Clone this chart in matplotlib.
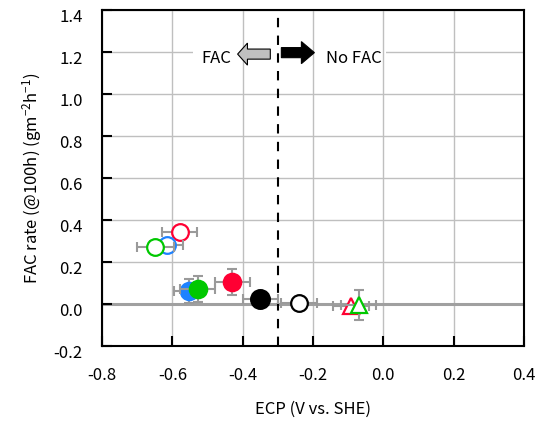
import matplotlib
matplotlib.use("Agg")
import matplotlib.pyplot as plt
from matplotlib.patches import FancyArrow, Rectangle
import matplotlib.transforms as mtransforms

plt.rcParams['font.family'] = ['Noto Sans CJK JP', 'DejaVu Sans']
plt.rcParams['mathtext.fontset'] = 'custom'
plt.rcParams['mathtext.rm'] = 'Noto Sans CJK JP'
plt.rcParams['mathtext.default'] = 'regular'

# ---- data ----
ecp = [-0.579, -0.616, -0.648, -0.552, -0.528, -0.429, -0.350, -0.240, -0.092, -0.070]
rate = [0.341, 0.281, 0.273, 0.063, 0.071, 0.105, 0.024, 0.003, -0.008, -0.005]
ecp_err = [0.05, 0.047, 0.052, 0.044, 0.05, 0.05, 0.05, 0.05, 0.05, 0.05]
rate_err = [0.0, 0.0, 0.0, 0.056, 0.06, 0.06, 0.0, 0.0, 0.0, 0.07]
colors = ['#FF0033', '#1E82FF', '#00C800', '#1E82FF', '#00C800', '#FF0033',
          '#000000', '#000000', '#FF0033', '#00C800']
markers = ['o', 'o', 'o', 'o', 'o', 'o', 'o', 'o', '^', '^']
filled = [False, False, False, True, True, True, True, False, False, False]
sizes = [12, 12, 12, 12.5, 12.5, 12.5, 13.5, 12, 11, 11]

xticks = [-0.8, -0.6, -0.4, -0.2, 0.0, 0.2, 0.4]
yticks = [-0.2, 0.0, 0.2, 0.4, 0.6, 0.8, 1.0, 1.2, 1.4]
boundary = -0.30

fig = plt.figure(figsize=(5.53, 4.23), dpi=100)
ax = fig.add_axes([102/553, 1-346/423, (524-102)/553, (346-10)/423])
ax.set_xlim(-0.8, 0.4)
ax.set_ylim(-0.2, 1.4)

grid_c = '#BFBFBF'
for yv in yticks:
    ax.axhline(yv, color=grid_c, lw=1.0, zorder=0.5)
# white box behind annotation
ax.add_patch(Rectangle((-0.542, 1.11), 0.550, 0.15, facecolor='white',
                       edgecolor='none', zorder=0.8))
for xv in xticks:
    ax.axvline(xv, color=grid_c, lw=1.0, zorder=0.9)
ax.axhline(0.0, color='#A0A0A0', lw=2.2, zorder=1)

ax.axvline(boundary, color='black', lw=1.5, dashes=(4.5, 4), zorder=2)

for i in range(len(ecp)):
    ax.errorbar(ecp[i], rate[i], xerr=ecp_err[i],
                yerr=rate_err[i] if rate_err[i] > 0 else None,
                fmt='none', ecolor='#9A9A9A', elinewidth=1.5, capsize=3.5,
                capthick=1.5, zorder=3 + i * 0.1)
for i in range(len(ecp)):
    ax.plot(ecp[i], rate[i], marker=markers[i], ms=sizes[i],
            mfc=colors[i] if filled[i] else 'white', mec=colors[i], mew=1.6,
            ls='none', zorder=3.05 + i * 0.1)

# arrows
ax.add_patch(FancyArrow(-0.3214, 1.190, -0.093, 0, width=0.048, head_width=0.105,
                        head_length=0.028, length_includes_head=True,
                        facecolor='#C0C0C0', edgecolor='black', lw=0.8, zorder=4))
ax.add_patch(FancyArrow(-0.290, 1.197, 0.094, 0, width=0.048, head_width=0.105,
                        head_length=0.037, length_includes_head=True,
                        facecolor='black', edgecolor='black', lw=0.8, zorder=4))
ax.text(-0.475, 1.17, 'FAC', ha='center', va='center', fontsize=12, zorder=4)
ax.text(-0.085, 1.17, 'No FAC', ha='center', va='center', fontsize=12, zorder=4)

ax.set_xticks(xticks)
ax.set_yticks(yticks)
ax.set_xticklabels(['%.1f' % v for v in xticks])
ax.set_yticklabels(['%.1f' % v for v in yticks])
ax.tick_params(direction='in', length=7, width=1.5, labelsize=12)
ax.tick_params(axis='x', pad=15)
ax.tick_params(axis='y', pad=14)
off = mtransforms.ScaledTranslation(0, -6/100, fig.dpi_scale_trans)
for lab in ax.get_yticklabels():
    lab.set_transform(lab.get_transform() + off)
for s in ax.spines.values():
    s.set_linewidth(1.5)
    s.set_zorder(5)

ax.set_xlabel('ECP (V vs. SHE)', fontsize=12, labelpad=12)
ax.set_ylabel('FAC rate (@100h) (gm$^{-2}$h$^{-1}$)', fontsize=12, labelpad=7)

fig.savefig('out.png', dpi=100)
